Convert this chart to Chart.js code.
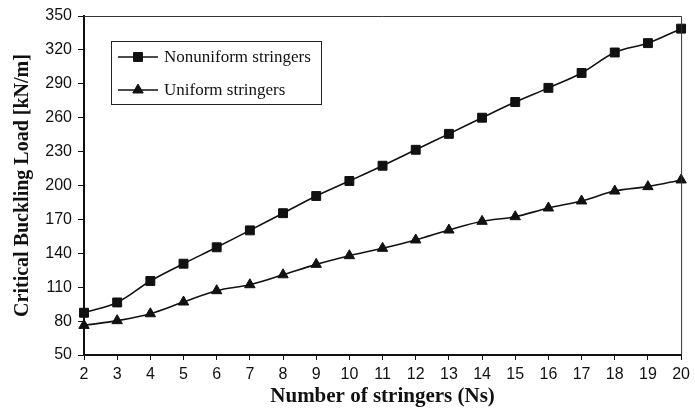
<!DOCTYPE html>
<html>
<head>
<meta charset="utf-8">
<script src="https://cdn.jsdelivr.net/npm/chart.js@4/dist/chart.umd.min.js"></script>
<style>
html,body{margin:0;padding:0;background:#fff;}
#wrap{width:695px;height:409px;position:relative;}
</style>
</head>
<body>
<div id="wrap"><canvas id="c" width="695" height="409"></canvas></div>
<script>
const categories = ['2','3','4','5','6','7','8','9','10','11','12','13','14','15','16','17','18','19','20'];
const nonuniform = [87.4, 96.5, 115.5, 130.8, 145.3, 160.3, 175.5, 190.7, 204.0, 217.5, 231.6, 245.7, 260.0, 273.9, 286.4, 299.6, 317.7, 326.0, 338.8];
const uniform = [76.2, 80.4, 86.5, 96.9, 106.9, 112.2, 121.0, 130.2, 137.9, 144.4, 151.8, 160.6, 168.3, 172.4, 180.1, 186.3, 195.1, 199.0, 204.9];
const seriesNames = ['Nonuniform stringers', 'Uniform stringers'];
const yMin = 50, yMax = 350, yStep = 30;

const ink = '#111';

const frame = {
  id: 'frame',
  afterDatasetsDraw(chart) {
    const {ctx, chartArea: a} = chart;
    ctx.save();
    ctx.strokeStyle = '#333';
    ctx.lineWidth = 1;
    ctx.beginPath();
    ctx.moveTo(a.left, a.top + 0.5);
    ctx.lineTo(a.right + 0.5, a.top + 0.5);
    ctx.lineTo(a.right + 0.5, a.bottom);
    ctx.stroke();
    ctx.restore();
  },
  afterDraw(chart) {
    const ctx = chart.ctx;
    ctx.save();
    const bx = 111.5, by = 41.5, bw = 210, bh = 63;
    ctx.fillStyle = '#fff';
    ctx.fillRect(bx, by, bw, bh);
    ctx.strokeStyle = '#222';
    ctx.lineWidth = 1;
    ctx.strokeRect(bx, by, bw, bh);
    const rows = [57, 90];
    chart.data.datasets.forEach((ds, i) => {
      const y = rows[i];
      ctx.strokeStyle = ink;
      ctx.lineWidth = 1.5;
      ctx.beginPath();
      ctx.moveTo(118, y);
      ctx.lineTo(158, y);
      ctx.stroke();
      ctx.fillStyle = ink;
      ctx.strokeStyle = ink;
      ctx.lineWidth = 1;
      Chart.helpers.drawPoint(ctx, {pointStyle: ds.pointStyle, radius: ds.pointRadius, borderWidth: 1}, 138, y);
      ctx.font = '17px "Liberation Serif", "Times New Roman", serif';
      ctx.textBaseline = 'middle';
      ctx.textAlign = 'left';
      ctx.fillStyle = '#111';
      ctx.fillText(ds.label, 164, y + 1);
    });
    ctx.restore();
  }
};

new Chart(document.getElementById('c'), {
  type: 'line',
  data: {
    labels: categories,
    datasets: [
      {
        label: seriesNames[0],
        data: nonuniform,
        borderColor: ink,
        backgroundColor: ink,
        pointBackgroundColor: ink,
        pointBorderColor: ink,
        borderWidth: 1.6,
        pointStyle: 'rect',
        pointRadius: 6.3,
        pointBorderWidth: 1,
        tension: 0.35,
        fill: false
      },
      {
        label: seriesNames[1],
        data: uniform,
        borderColor: ink,
        backgroundColor: ink,
        pointBackgroundColor: ink,
        pointBorderColor: ink,
        borderWidth: 1.6,
        pointStyle: 'triangle',
        pointRadius: 6,
        pointBorderWidth: 1,
        tension: 0.35,
        fill: false
      }
    ]
  },
  options: {
    responsive: false,
    animation: false,
    devicePixelRatio: 1,
    layout: {padding: {top: 16, right: 10, left: 0, bottom: 0}},
    plugins: {legend: {display: false}, tooltip: {enabled: false}},
    scales: {
      x: {
        type: 'category',
        offset: false,
        afterFit(s) { s.height = 54; },
        grid: {drawOnChartArea: false, drawTicks: true, tickLength: 5, color: '#111', lineWidth: 1},
        border: {display: true, color: '#111', width: 2},
        ticks: {color: '#111', padding: 5, maxRotation: 0, autoSkip: false,
          font: {family: '"Liberation Sans", Arial, sans-serif', size: 16}},
        title: {display: true, text: 'Number of stringers (Ns)', color: '#111',
          padding: {top: 0, bottom: 0},
          font: {family: '"Liberation Serif", "Times New Roman", serif', size: 21, weight: 'bold'}}
      },
      y: {
        min: yMin, max: yMax,
        afterFit(s) { s.width = 84; },
        grid: {drawOnChartArea: false, drawTicks: true, tickLength: 6, color: '#111', lineWidth: 1},
        border: {display: true, color: '#111', width: 2},
        ticks: {stepSize: yStep, color: '#111', padding: 6,
          font: {family: '"Liberation Sans", Arial, sans-serif', size: 16}},
        title: {display: true, text: 'Critical Buckling Load [kN/m]', color: '#111',
          padding: {top: 11, bottom: 0},
          font: {family: '"Liberation Serif", "Times New Roman", serif', size: 20, weight: 'bold'}}
      }
    }
  },
  plugins: [frame]
});
</script>
</body>
</html>
